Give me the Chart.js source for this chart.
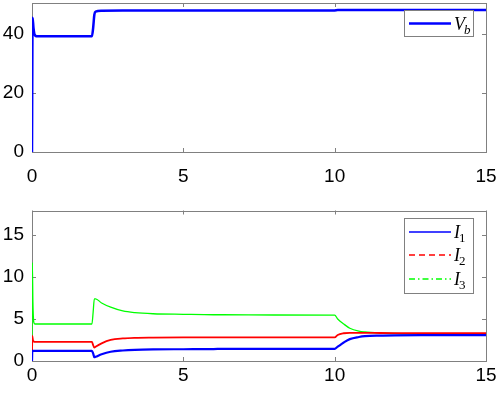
<!DOCTYPE html>
<html>
<head>
<meta charset="utf-8">
<script src="https://cdn.jsdelivr.net/npm/chart.js@4.4.0/dist/chart.umd.min.js"></script>
<style>
  body { margin: 0; background: #fff; }
  #wrap { position: relative; width: 498px; height: 394px; }
  .box { position: absolute; left: 0; width: 498px; height: 197px; }
</style>
</head>
<body>
<div id="wrap">
  <div class="box" style="top:0"><canvas id="topChart"></canvas></div>
  <div class="box" style="top:197px"><canvas id="botChart"></canvas></div>
</div>
<script>
// top panel: bus voltage
var tV = [0, 0.02, 0.05, 0.1, 0.2, 1.98, 2.02, 2.06, 2.1, 2.3, 3, 6, 10, 10.1, 15];
var vb = [0, 45.5, 42, 39.5, 39.2, 39.2, 42, 46.5, 47.6, 47.9, 48.0, 48.0, 48.0, 48.1, 48.1];

// bottom panel: currents
var tI = [0, 0.01, 0.03, 0.06, 0.1, 1.98, 2.02, 2.06, 2.1, 2.3, 2.6, 3.0, 3.4, 4, 5, 6, 6.3, 8, 10, 10.1, 10.3, 10.5, 10.8, 11, 11.5, 12, 13, 15];
var i1 = [0, 1.2, 1.2, 1.2, 1.2, 1.2, 0.9, 0.45, 0.5, 0.8, 1.1, 1.25, 1.33, 1.38, 1.4, 1.42, 1.45, 1.45, 1.45, 1.7, 2.2, 2.6, 2.85, 2.95, 3.02, 3.05, 3.07, 3.08];
var i2 = [0, 3.0, 2.5, 2.3, 2.28, 2.28, 1.9, 1.6, 1.7, 2.1, 2.5, 2.68, 2.75, 2.78, 2.8, 2.8, 2.8, 2.8, 2.8, 3.1, 3.3, 3.35, 3.35, 3.35, 3.33, 3.32, 3.32, 3.32];
var i3 = [0, 11.7, 7, 4.6, 4.4, 4.4, 5.8, 7.4, 7.4, 6.9, 6.4, 5.95, 5.75, 5.62, 5.55, 5.5, 5.5, 5.47, 5.45, 5.0, 4.4, 3.9, 3.55, 3.45, 3.33, 3.27, 3.22, 3.2];

var xTicks = [0, 5, 10, 15];
var vTicks = [0, 20, 40];
var iTicks = [0, 5, 10, 15];

function pts(t, v) {
  return t.map(function (x, k) { return { x: x, y: v[k] }; });
}

function fixedTicks(list) {
  return function (s) { s.ticks = list.map(function (v) { return { value: v }; }); };
}

var tickFont = { family: 'Liberation Sans, Arial, Helvetica, sans-serif', size: 19 };

// box with inward ticks on all four sides, like matlab
var frame = {
  id: 'frame',
  beforeDatasetsDraw: function (chart) {
    var a = chart.chartArea, ctx = chart.ctx;
    var sx = chart.scales.x, sy = chart.scales.y;
    ctx.save();
    ctx.strokeStyle = '#808080';
    ctx.lineWidth = 1;
    ctx.strokeRect(Math.round(a.left) + 0.5, Math.round(a.top) + 0.5,
      Math.round(a.right) - Math.round(a.left), Math.round(a.bottom) - Math.round(a.top));
    ctx.beginPath();
    sx.ticks.forEach(function (t) {
      var px = Math.round(sx.getPixelForValue(t.value)) + 0.5;
      ctx.moveTo(px, a.bottom); ctx.lineTo(px, a.bottom - 4);
      ctx.moveTo(px, a.top); ctx.lineTo(px, a.top + 4);
    });
    sy.ticks.forEach(function (t) {
      var py = Math.round(sy.getPixelForValue(t.value)) + 0.5;
      ctx.moveTo(a.left, py); ctx.lineTo(a.left + 4, py);
      ctx.moveTo(a.right, py); ctx.lineTo(a.right - 4, py);
    });
    ctx.stroke();
    ctx.restore();
  }
};

// legend box in the upper right corner with subscripted labels
var boxLegend = {
  id: 'boxLegend',
  afterDatasetsDraw: function (chart) {
    var a = chart.chartArea, ctx = chart.ctx;
    var sets = chart.data.datasets;
    var n = sets.length;
    var right = Math.round(a.right) - 13, top = Math.round(a.top) + 7;
    var w = 69, h = 26 + (n - 1) * 24.5;
    var left = right - w;
    ctx.save();
    ctx.fillStyle = '#fff';
    ctx.fillRect(left, top, w, h);
    ctx.strokeStyle = '#808080';
    ctx.lineWidth = 1;
    ctx.strokeRect(left + 0.5, top + 0.5, w, h);
    sets.forEach(function (ds, k) {
      var cy = top + 13.5 + k * 23.5;
      var ly = ds.legendWidth < 2 ? Math.round(cy) : cy;
      ctx.beginPath();
      ctx.setLineDash(ds.legendDash || []);
      ctx.strokeStyle = ds.legendColor || ds.borderColor;
      ctx.lineWidth = ds.legendWidth || ds.borderWidth;
      ctx.moveTo(left + 5, ly);
      ctx.lineTo(left + 47, ly);
      ctx.stroke();
      ctx.setLineDash([]);
      var parts = ds.label.split('_');
      ctx.fillStyle = '#000';
      ctx.textBaseline = 'alphabetic';
      ctx.font = 'italic 18px "Liberation Serif", "Times New Roman", serif';
      ctx.fillText(parts[0], left + 50, cy + 6);
      var mw = ctx.measureText(parts[0]).width;
      ctx.font = (isNaN(parts[1]) ? 'italic ' : '') + '13px "Liberation Serif", "Times New Roman", serif';
      ctx.fillText(parts[1], left + 50 + mw - 1, cy + 10);
    });
    ctx.restore();
  }
};

function makeOptions(yMax, yList, padTop, xHeight, xPad) {
  return {
    responsive: true,
    maintainAspectRatio: false,
    animation: false,
    layout: { padding: { left: 0, top: padTop, right: 12, bottom: 0 } },
    plugins: { legend: { display: false }, tooltip: { enabled: false } },
    elements: { point: { radius: 0 }, line: { tension: 0.4, cubicInterpolationMode: 'monotone' } },
    scales: {
      x: {
        type: 'linear', min: 0, max: 15,
        afterBuildTicks: fixedTicks(xTicks),
        afterFit: function (s) { s.height = xHeight; s.paddingLeft = 0; s.paddingRight = 0; },
        grid: { display: false, drawTicks: false },
        border: { display: false },
        ticks: { color: '#000', font: tickFont, padding: xPad, maxRotation: 0 }
      },
      y: {
        min: 0, max: yMax,
        afterBuildTicks: fixedTicks(yList),
        ticks: { color: '#000', font: tickFont, padding: 8 },
        afterFit: function (s) { s.width = 32; s.paddingTop = 0; s.paddingBottom = 0; },
        grid: { display: false, drawTicks: false },
        border: { display: false }
      }
    }
  };
}

new Chart(document.getElementById('topChart'), {
  type: 'line',
  data: {
    datasets: [{
      label: 'V_b',
      data: pts(tV, vb),
      borderColor: '#0000ff',
      borderWidth: 2.5,
      legendWidth: 2.5
    }]
  },
  options: makeOptions(50.5, vTicks, 3, 45, 13),
  plugins: [frame, boxLegend]
});

new Chart(document.getElementById('botChart'), {
  type: 'line',
  data: {
    datasets: [{
      label: 'I_1',
      data: pts(tI, i1),
      borderColor: '#0000ff',
      borderWidth: 2.2,
      legendWidth: 1.3
    }, {
      label: 'I_2',
      data: pts(tI, i2),
      borderColor: '#ff0000',
      borderWidth: 1.8,
      legendWidth: 1.3,
      legendDash: [6, 4]
    }, {
      label: 'I_3',
      data: pts(tI, i3),
      borderColor: '#00ff00',
      borderWidth: 1.3,
      legendWidth: 1.3,
      legendDash: [6, 3, 1.5, 3]
    }]
  },
  options: makeOptions(17.9, iTicks, 13.5, 33, 3),
  plugins: [frame, boxLegend]
});
</script>
</body>
</html>
